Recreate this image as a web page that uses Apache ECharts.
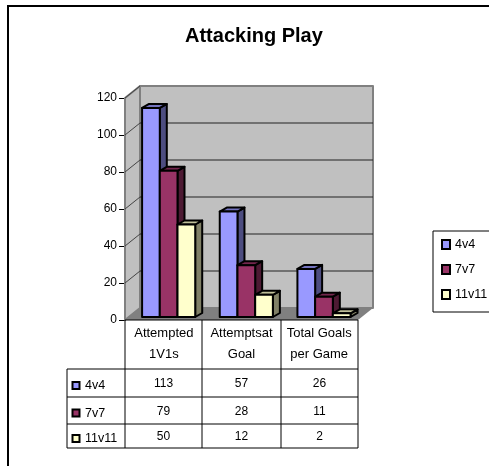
<!DOCTYPE html>
<html>
<head>
<meta charset="utf-8">
<style>html,body{margin:0;padding:0;background:#fff}#main{width:489px;height:466px}</style>
<script src="https://cdn.jsdelivr.net/npm/echarts@6/dist/echarts.min.js"></script>
</head>
<body>
<div id="main"></div>
<script>
var categories = ['Attempted\n1V1s', 'Attemptsat\nGoal', 'Total Goals\nper Game'];
var seriesNames = ['4v4', '7v7', '11v11'];
var v4 = [113, 57, 26];
var v7 = [79, 28, 11];
var v11 = [50, 12, 2];
var yTicks = [0, 20, 40, 60, 80, 100, 120];

var colors = ['#9999FF', '#993366', '#FFFFCC'];
var sideColors = ['#4D4D80', '#4D1A33', '#808066'];
var topColors = ['#7373BF', '#73264D', '#BFBF99'];

// depth of the box and of the bars, in px
var boxDx = 15, boxDy = 12;
var barDx = 7, barDy = 4;
var font = '"Liberation Sans", Arial, sans-serif';

var myChart = echarts.init(document.getElementById('main'));

function poly(points, fill, stroke, lw) {
    return {
        type: 'polygon',
        shape: { points: points },
        style: { fill: fill, stroke: stroke || null, lineWidth: lw || 0, lineJoin: 'round' }
    };
}

function line(x1, y1, x2, y2, color, lw) {
    return {
        type: 'line',
        shape: { x1: x1, y1: y1, x2: x2, y2: y2 },
        style: { stroke: color, lineWidth: lw }
    };
}

// the walls, floor and gridlines of the fake 3d box
var renderBox = function (params, api) {
    var x0 = api.coord([0, 0])[0] - api.size([1, 0])[0] / 2;
    var x1 = api.coord([2, 0])[0] + api.size([1, 0])[0] / 2;
    var y0 = api.coord([0, 0])[1];
    var y1 = api.coord([0, 120])[1];
    var kids = [
        poly([[x0 + boxDx, y1 - boxDy], [x1 + boxDx, y1 - boxDy], [x1 + boxDx, y0 - boxDy], [x0 + boxDx, y0 - boxDy]], '#C0C0C0', '#808080', 2),
        poly([[x0, y1], [x0 + boxDx, y1 - boxDy], [x0 + boxDx, y0 - boxDy], [x0, y0]], '#C0C0C0', '#808080', 2),
        poly([[x0, y0], [x0 + boxDx, y0 - boxDy], [x1 + boxDx, y0 - boxDy], [x1, y0]], '#808080')
    ];
    yTicks.forEach(function (t) {
        var y = api.coord([0, t])[1];
        if (t > 0 && t < 120) {
            kids.push(line(x0 + boxDx, y - boxDy, x1 + boxDx, y - boxDy, '#222', 1));
        }
        if (t > 0) {
            kids.push(line(x0, y, x0 + boxDx, y - boxDy, '#444', 1));
        }
    });
    return { type: 'group', children: kids };
};

// one 3d bar: front, side and top faces
var makeBar = function (idx) {
    return function (params, api) {
        var cat = api.value(0);
        var size = api.size([1, 0])[0];
        var w = size * 0.228;
        var c = api.coord([cat, api.value(1)]);
        var b = api.coord([cat, 0]);
        var left = c[0] - size / 2 + size * 0.22 + idx * w;
        var right = left + w;
        var top = c[1] - 3;
        var bot = b[1] - 3;
        return {
            type: 'group',
            children: [
                poly([[right, top], [right + barDx, top - barDy], [right + barDx, bot - barDy], [right, bot]], sideColors[idx], '#000', 2),
                poly([[left, top], [left + barDx, top - barDy], [right + barDx, top - barDy], [right, top]], topColors[idx], '#000', 2),
                poly([[left, top], [right, top], [right, bot], [left, bot]], colors[idx], '#000', 2)
            ]
        };
    };
};

function tableData(values) {
    return values.map(function (v, i) { return [i, v]; });
}

var colX = [125, 202, 281, 358];
var rowY = [369, 397, 424, 448];
var tableLeft = 67;
var rows = [v4, v7, v11];

// table under the plot and the outer frame
var graphics = [
    { type: 'line', z: 5, shape: { x1: 8, y1: 6, x2: 489, y2: 6 }, style: { stroke: '#000', lineWidth: 2 } },
    { type: 'line', z: 5, shape: { x1: 8, y1: 5, x2: 8, y2: 466 }, style: { stroke: '#000', lineWidth: 2 } },
    { type: 'line', z: 5, shape: { x1: colX[0], y1: 320, x2: colX[3], y2: 320 }, style: { stroke: '#000', lineWidth: 1 } }
];
rowY.forEach(function (y) {
    graphics.push({ type: 'line', z: 5, shape: { x1: tableLeft, y1: y, x2: colX[3], y2: y }, style: { stroke: '#000', lineWidth: 1 } });
});
graphics.push({ type: 'line', z: 5, shape: { x1: tableLeft, y1: rowY[0], x2: tableLeft, y2: rowY[3] }, style: { stroke: '#000', lineWidth: 1 } });
colX.forEach(function (x) {
    graphics.push({ type: 'line', z: 5, shape: { x1: x, y1: 320, x2: x, y2: rowY[3] }, style: { stroke: '#000', lineWidth: 1 } });
});
rows.forEach(function (vals, r) {
    var mid = (rowY[r] + rowY[r + 1]) / 2;
    graphics.push({ type: 'rect', z: 6, shape: { x: 72.5, y: mid - 1, width: 7, height: 7 }, style: { fill: colors[r], stroke: '#000', lineWidth: 2 } });
    graphics.push({ type: 'text', z: 6, style: { x: 85, y: mid + 3, text: seriesNames[r], font: '12.5px ' + font, fill: '#000', textVerticalAlign: 'middle' } });
    vals.forEach(function (v, c) {
        graphics.push({ type: 'text', z: 6, style: { x: (colX[c] + colX[c + 1]) / 2, y: mid + 1, text: String(v), font: '12px ' + font, fill: '#000', textAlign: 'center', textVerticalAlign: 'middle' } });
    });
});

var option = {
    animation: false,
    backgroundColor: '#fff',
    title: {
        text: 'Attacking Play',
        left: 180,
        top: 21,
        textStyle: { fontFamily: font, fontWeight: 'bold', fontSize: 20, color: '#000' }
    },
    legend: {
        data: seriesNames,
        orient: 'vertical',
        left: 433,
        top: 231,
        padding: [7, 20, 11, 8],
        itemGap: 12,
        itemWidth: 8,
        itemHeight: 9,
        borderColor: '#000',
        borderWidth: 1,
        icon: 'rect',
        textStyle: { fontFamily: font, fontSize: 12.5, color: '#000' }
    },
    grid: { left: 125, right: 131, top: 98, height: 222 },
    xAxis: {
        type: 'category',
        data: categories,
        axisLine: { show: false },
        axisTick: { show: false },
        axisLabel: { fontFamily: font, fontSize: 13, color: '#000', lineHeight: 21, margin: 3, interval: 0 }
    },
    yAxis: {
        type: 'value',
        min: 0,
        max: 120,
        interval: 20,
        splitLine: { show: false },
        axisLine: { show: true, lineStyle: { color: '#000' } },
        axisTick: { show: true, length: 6, lineStyle: { color: '#000' } },
        axisLabel: { fontFamily: font, fontSize: 12, color: '#000', margin: 8 }
    },
    graphic: graphics,
    series: [
        {
            name: 'box',
            type: 'custom',
            clip: false,
            silent: true,
            z: 1,
            renderItem: renderBox,
            data: [[0, 0]]
        },
        { name: seriesNames[0], type: 'custom', clip: false, z: 2, renderItem: makeBar(0), itemStyle: { color: colors[0], borderColor: '#000', borderWidth: 2 }, data: tableData(v4), encode: { x: 0, y: 1 } },
        { name: seriesNames[1], type: 'custom', clip: false, z: 2, renderItem: makeBar(1), itemStyle: { color: colors[1], borderColor: '#000', borderWidth: 2 }, data: tableData(v7), encode: { x: 0, y: 1 } },
        { name: seriesNames[2], type: 'custom', clip: false, z: 2, renderItem: makeBar(2), itemStyle: { color: colors[2], borderColor: '#000', borderWidth: 2 }, data: tableData(v11), encode: { x: 0, y: 1 } }
    ]
};

myChart.setOption(option);
</script>
</body>
</html>
